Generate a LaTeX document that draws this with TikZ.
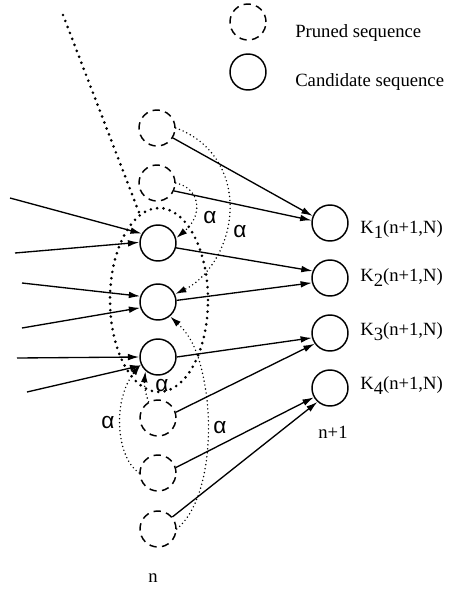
\documentclass[tikz,border=0pt]{standalone}
\usepackage{fontspec}
\setmainfont{Liberation Serif}
\newfontfamily\alphafont{Liberation Sans}
\usetikzlibrary{arrows.meta}
\newcommand{\ksub}[1]{K\raisebox{-0.32em}{#1}}
\begin{document}
\begin{tikzpicture}[x=0.75pt,y=-0.75pt,
  font=\fontsize{14}{16}\selectfont,
  cand/.style={circle,draw,line width=1.1pt,minimum size=27pt,inner sep=0pt},
  pruned/.style={circle,draw,line width=1.1pt,minimum size=27pt,inner sep=0pt,dash pattern=on 5.5pt off 4pt},
  arr/.style={line width=1pt,-{Latex[length=8.5pt,width=5pt]}},
  finedot/.style={line width=1.2pt,line cap=round,dash pattern=on 0pt off 3pt},
  bigdot/.style={line width=2.2pt,line cap=round,dash pattern=on 0pt off 4.8pt},
  dotarr/.style={finedot,-{Latex[length=8.5pt,width=5pt]}},
  alab/.style={font=\alphafont\fontsize{17}{18}\selectfont,inner sep=0pt},
  lab/.style={inner sep=0pt},
]
\useasboundingbox (0,0) rectangle (460,592);

% legend
\node[pruned] (LP) at (248,22) {};
\node[cand]   (LC) at (248,72) {};
\node[lab,anchor=west] (LPt) at (295,33) {Pruned sequence};
\node[lab,anchor=west] (LCt) at (295,82) {Candidate sequence};

% stage n
\node[pruned] (P1) at (157,128) {};
\node[pruned] (P2) at (157,183) {};
\node[cand]   (C1) at (158,243) {};
\node[cand]   (C2) at (158,302) {};
\node[cand]   (C3) at (158,357) {};
\node[pruned] (P3) at (158,418) {};
\node[pruned] (P4) at (158,473) {};
\node[pruned] (P5) at (158,529) {};

% stage n+1
\node[cand] (K1) at (330,223) {};
\node[cand] (K2) at (330,278) {};
\node[cand] (K3) at (330,333) {};
\node[cand] (K4) at (330,388) {};

\node[lab,anchor=base west] (K1l) at (360,233) {\ksub{1}(n+1,N)};
\node[lab,anchor=base west] (K2l) at (360,281) {\ksub{2}(n+1,N)};
\node[lab,anchor=base west] (K3l) at (360,335) {\ksub{3}(n+1,N)};
\node[lab,anchor=base west] (K4l) at (360,389) {\ksub{4}(n+1,N)};

\node[lab] (nl)  at (153,578) {n};
\node[lab] (n1l) at (333,432) {n+1};

% incoming arrows from the left
\coordinate (L1) at (10,198);
\coordinate (L2) at (15,253);
\coordinate (L3) at (22,283);
\coordinate (L4) at (22,328);
\coordinate (L5) at (17,358);
\coordinate (L6) at (27,392);
\draw[arr] (L1) -- (C1.150);
\draw[arr] (L2) -- (C1.178);
\draw[arr] (L3) -- (C2.162);
\draw[arr] (L4) -- (C2.198);
\draw[arr] (L5) -- (C3.180);
\draw[arr] (L6) -- (C3.207);

% outgoing arrows
\draw[arr] (P1.-32) -- (K1.158);
\draw[arr] (P2.-25) -- (K1.172);
\draw[arr] (C1.-15) -- (K2.158);
\draw[arr] (C2.5)   -- (K2.195);
\draw[arr] (C3.0)   -- (K3.195);
\draw[arr] (P3.18)  -- (K3.215);
\draw[arr] (P4.17)  -- (K4.210);
\draw[arr] (P5.40)  -- (K4.228);

% thick dotted line and ellipse
\coordinate (Dtop) at (63,15);
\coordinate (Dend) at (140,215);
\draw[bigdot] (Dtop) -- (Dend);
\draw[bigdot] (159,300) ellipse [x radius=36.75pt, y radius=69pt];

% alpha transitions (dotted)
\draw[dotarr] (P1.east) .. controls (215,142) and (232,178) .. (230,212)
              .. controls (228,250) and (205,280) .. (C2.25);
\draw[dotarr] (P2.east) .. controls (200,188) and (204,215) .. (C1.15);
\draw[dotarr] (P4.west) .. controls (116,458) and (112,400) .. (C3.203);
\draw[dotarr] (P3.120) .. controls (146,396) and (144,385) .. (C3.228);
\draw[dotarr] (P5.east) .. controls (206,505) and (213,440) .. (206,392)
              .. controls (200,352) and (190,335) .. (C2.-50);

% alpha labels
\node[alab] (a1) at (210,218) {α};
\node[alab] (a2) at (240,232) {α};
\node[alab] (a3) at (108,423) {α};
\node[alab] (a4) at (162,386) {α};
\node[alab] (a5) at (220,428) {α};
\end{tikzpicture}
\end{document}
